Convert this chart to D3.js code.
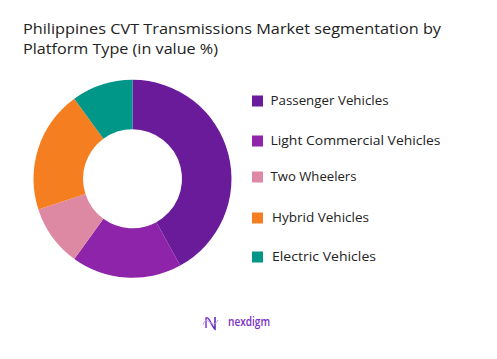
<!DOCTYPE html>
<html><head><meta charset="utf-8">
<script src="https://cdn.jsdelivr.net/npm/d3@7"></script>
<style>body{margin:0;background:#fff}svg{display:block}</style>
</head><body>
<script>
const categories = ["Passenger Vehicles","Light Commercial Vehicles","Two Wheelers","Hybrid Vehicles","Electric Vehicles"];
const values = [42, 18, 10, 20, 10];
const colors = ["#6A1B9A","#8E24AA","#DE89A3","#F57F20","#009688"];
const titleLines = ["Philippines CVT Transmissions Market segmentation by","Platform Type (in value %)"];

const W = 497, H = 359;
const svg = d3.select("body").append("svg").attr("width", W).attr("height", H);
const font = "'Open Sans', 'DejaVu Sans', sans-serif";

const titleW = [418, 195];
svg.selectAll("text.title").data(titleLines).enter().append("text")
  .attr("x", 23).attr("y", (d,i)=>34 + i*19.5)
  .attr("font-family", font).attr("font-size", 15).attr("fill", "#222")
  .attr("textLength", (d,i)=>titleW[i]).attr("lengthAdjust", "spacingAndGlyphs")
  .text(d=>d);

const cx = 132.5, cy = 178.8;
const pie = d3.pie().sort(null).value(d=>d)(values);
const arc = d3.arc().innerRadius(49.5).outerRadius(99);
const g = svg.append("g").attr("transform", `translate(${cx},${cy})`);
g.selectAll("path").data(pie).enter().append("path")
  .attr("d", arc).attr("fill", (d,i)=>colors[i]);

const legY = d3.scaleOrdinal().domain(categories).range([101, 141, 177, 218, 257]);
const legW = [118, 170, 86, 97, 104];
const leg = svg.append("g");
categories.forEach((c,i)=>{
  const y = legY(c);
  leg.append("rect").attr("x", 252).attr("y", y-5.5).attr("width", 11).attr("height", 11).attr("fill", colors[i]);
  leg.append("text").attr("x", i>=3 ? 272 : 270.5).attr("y", y+4)
    .attr("font-family", font).attr("font-size", 11.8).attr("fill", "#222")
    .attr("textLength", legW[i]).attr("lengthAdjust", "spacingAndGlyphs").text(c);
});

// logo
const defs = svg.append("defs");
const grad = defs.append("linearGradient").attr("id","lg").attr("x1","0").attr("x2","1");
grad.append("stop").attr("offset","0").attr("stop-color","#8E44D8");
grad.append("stop").attr("offset","1").attr("stop-color","#5B2BB5");
svg.append("path").attr("d","M206,328 L206,318 C209,316 212,327 215,329 L215,317")
  .attr("fill","none").attr("stroke","url(#lg)").attr("stroke-width",1.6);
svg.append("path").attr("d","M203,325 C207,312 212,332 218,320")
  .attr("fill","none").attr("stroke","#C9A6EE").attr("stroke-width",1);
svg.append("text").attr("x", 228).attr("y", 326).attr("font-family", font)
  .attr("font-size", 12).attr("font-weight", 600).attr("fill", "#7A2FC4")
  .attr("textLength", 42).attr("lengthAdjust", "spacingAndGlyphs").text("nexdigm");
</script>
</body></html>
